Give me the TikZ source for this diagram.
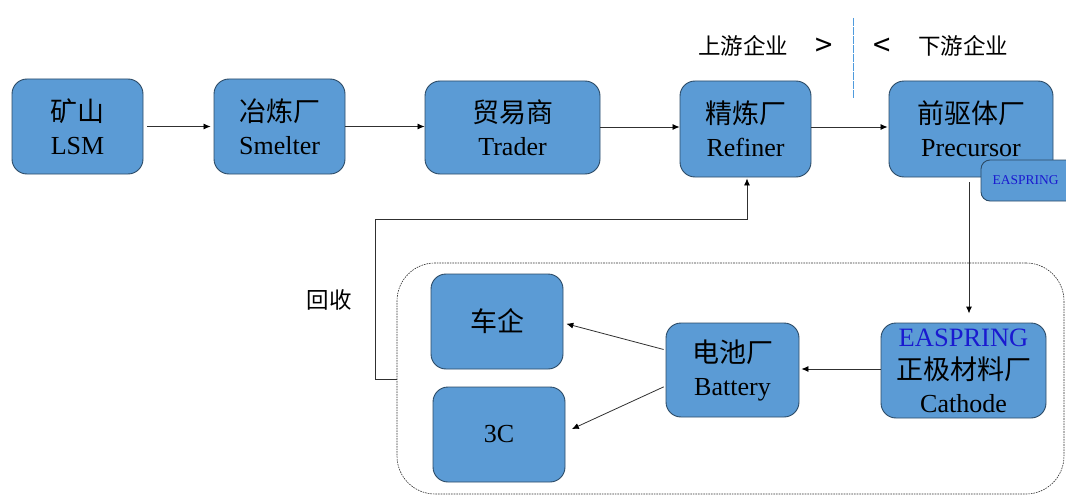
\documentclass[tikz,border=0pt]{standalone}
\usepackage{fontspec}
\setmainfont{Liberation Serif}
\newfontfamily\cjk{Noto Sans CJK SC}
\usetikzlibrary{arrows.meta}
\definecolor{boxfill}{HTML}{5B9BD5}
\definecolor{boxedge}{HTML}{2B4A66}
\definecolor{easblue}{HTML}{1A1AD0}
\definecolor{sepblue}{HTML}{4F9BDD}
\definecolor{linecol}{HTML}{303030}
\newcommand{\zh}[1]{{\cjk\fontsize{27}{33}\selectfont #1}}
\newcommand{\en}[1]{{\fontsize{26}{33}\selectfont #1}}
\tikzset{
  x=1pt,y=-1pt,
  box/.style={draw=boxedge,fill=boxfill,line width=0.9pt,rounded corners=15pt,inner sep=0pt,align=center,anchor=center,text=black,font=\fontsize{26}{33}\selectfont},
  conn/.style={draw=linecol,line width=0.8pt,-{Latex[length=7pt,width=6pt,black]}},
  lab/.style={inner sep=0pt,text=black,font=\cjk\fontsize{22.5}{27}\selectfont},
  sign/.style={inner sep=0pt,text=black,font=\cjk\fontsize{31}{31}\selectfont},
  group/.style={draw=linecol,line width=0.6pt,dash pattern=on 1.6pt off 1pt,rounded corners=38pt},
  sepline/.style={draw=sepblue,line width=1.4pt,dash pattern=on 4pt off 0.5pt}
}
\begin{document}
\begin{tikzpicture}
\useasboundingbox (0,0) rectangle (1066,495);
\clip (0,0) rectangle (1066,495);
% dashed group
\node[group,minimum width=667pt,minimum height=231pt,inner sep=0pt] (grp) at (730.5,378.5) {};
% boxes
\node[box,minimum width=131pt,minimum height=95pt] (lsm) at (77.5,126.5) {\zh{矿山}\\\en{LSM}};
\node[box,minimum width=131pt,minimum height=95pt] (smelter) at (279.5,126.5) {\zh{冶炼厂}\\\en{Smelter}};
\node[box,minimum width=175pt,minimum height=93pt] (trader) at (512.5,127.5) {\zh{贸易商}\\\en{Trader}};
\node[box,minimum width=131pt,minimum height=96pt] (refiner) at (745.5,129) {\zh{精炼厂}\\\en{Refiner}};
\node[box,minimum width=164pt,minimum height=96pt] (precursor) at (971,129) {\zh{前驱体厂}\\\en{Precursor}};
\node[box,rounded corners=9pt,minimum width=104pt,minimum height=41pt] (esmall) at (1033,180.5) {{\fontsize{13.5}{15}\selectfont\color{easblue}EASPRING}\hspace{15pt}};
\node[box,minimum width=132pt,minimum height=95pt] (car) at (497,321.5) {\zh{车企}};
\node[box,minimum width=132pt,minimum height=95pt] (cc) at (499,434.5) {\en{3C}};
\node[box,minimum width=133pt,minimum height=94pt] (battery) at (732.5,370) {\zh{电池厂}\\\en{Battery}};
\node[box,minimum width=165pt,minimum height=95pt] (cathode) at (963.5,370.5) {{\fontsize{26.5}{33}\selectfont\color{easblue}EASPRING}\\\zh{正极材料厂}\\\en{Cathode}};
% labels
\node[lab] (up) at (743,46) {上游企业};
\node[sign] (gt) at (824,47) {>};
\node[sign] (lt) at (882,47) {<};
\node[lab] (down) at (963,46) {下游企业};
\node[lab] (rec) at (329,300) {回收};
% separator
\coordinate (septop) at (853.5,18);
\coordinate (sepbot) at (853.5,98);
\draw[sepline] (septop) -- (sepbot);
% connectors
\draw[conn,shorten <=4pt,shorten >=3pt] (lsm.east) -- (smelter.west);
\draw[conn] (smelter.east) -- ([yshift=1pt]trader.west);
\draw[conn] ([yshift=0.5pt]trader.east) -- ([yshift=2pt]refiner.west);
\draw[conn,shorten >=1pt] ([yshift=2pt]refiner.east) -- ([yshift=2pt]precursor.west);
\draw[conn,shorten <=5pt,shorten >=9pt,line width=1pt] ([xshift=-2pt]precursor.south) -- ([xshift=5.5pt]cathode.north);
\draw[conn,shorten >=2pt] ([yshift=1.5pt]cathode.west) -- ([yshift=1pt]battery.east);
\draw[conn,shorten <=2pt,shorten >=3pt] ([yshift=20pt]battery.west) -- ([yshift=-1.5pt]car.east);
\draw[conn,shorten <=2pt,shorten >=7pt] ([yshift=-16pt]battery.west) -- ([yshift=2.5pt]cc.east);
\coordinate (recA) at (375,379);
\coordinate (recB) at (375,219);
\draw[conn,rounded corners=0pt] (grp.west |- recA) -- (recA) -- (recB) -- ([xshift=1.5pt]refiner.south |- recB) -- ([xshift=1.5pt,yshift=-1pt]refiner.south);
\end{tikzpicture}
\end{document}
